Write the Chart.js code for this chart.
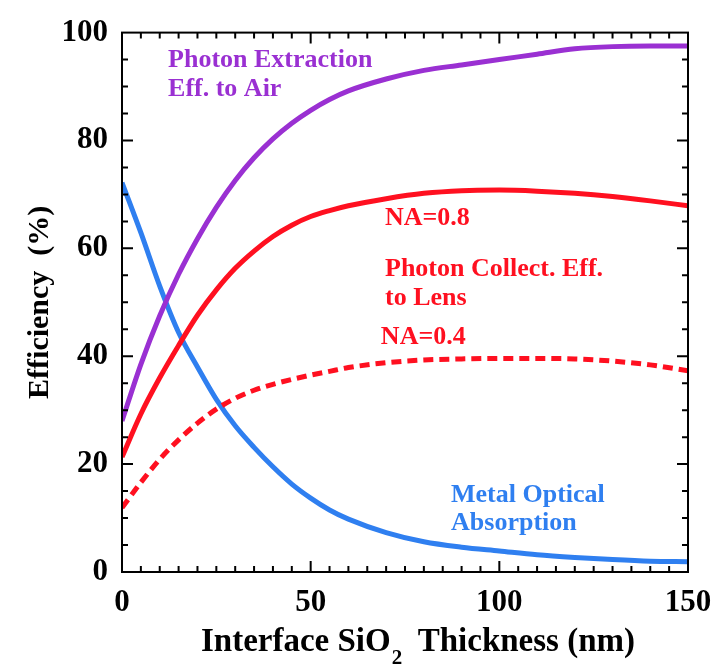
<!DOCTYPE html>
<html>
<head>
<meta charset="utf-8">
<script src="https://cdn.jsdelivr.net/npm/chart.js@4.4.1/dist/chart.umd.min.js"></script>
<style>
  html, body { margin: 0; padding: 0; background: #fff; }
  #wrap { width: 726px; height: 669px; }
</style>
</head>
<body>
<div id="wrap"><canvas id="chart"></canvas></div>
<script>
// interface SiO2 thickness (nm)
const thickness = [0, 5, 10, 15, 20, 25, 30, 35, 40, 45, 50, 55, 60, 70, 80, 90, 100, 110, 120, 130, 140, 150]
// efficiency (%)
const extractionAir = [28, 38.5, 47.5, 55.2, 61.8, 67.6, 72.6, 76.8, 80.3, 83.2, 85.6, 87.6, 89.2, 91.4, 93, 94, 95, 96, 97, 97.4, 97.5, 97.5]
const collectNA08 = [21.3, 29.3, 36, 42, 47.6, 52.3, 56.3, 59.5, 62.2, 64.3, 65.9, 67, 67.9, 69.2, 70.2, 70.7, 70.8, 70.6, 70.2, 69.6, 68.8, 67.9]
const collectNA04 = [11.9, 16.6, 20.9, 24.5, 27.6, 30.2, 32.2, 33.7, 34.8, 35.7, 36.5, 37.2, 37.9, 38.8, 39.3, 39.5, 39.6, 39.6, 39.5, 39.1, 38.4, 37.3]
const metalAbsorption = [72.2, 62.9, 53, 44.4, 38, 32, 27.1, 23.1, 19.5, 16.3, 13.7, 11.5, 9.8, 7.3, 5.6, 4.6, 3.9, 3.2, 2.7, 2.3, 2.0, 1.9]

const PURPLE = '#9a30d2'
const RED = '#ff1020'
const BLUE = '#2f7ff0'
const FONT = "'Liberation Serif', 'Times New Roman', serif"

const pts = ys => thickness.map((t, i) => ({ x: t, y: ys[i] }))

const line = (label, ys, color, dash) => ({
  label,
  data: pts(ys),
  borderColor: color,
  borderWidth: 5,
  borderDash: dash || [],
  pointRadius: 0,
  fill: false,
  cubicInterpolationMode: 'monotone'
})

// text labels placed in data coordinates
const notes = [
  { text: 'Photon Extraction', x: 12.2, y: 94.9, color: PURPLE },
  { text: 'Eff. to Air', x: 12.2, y: 89.5, color: PURPLE },
  { text: 'NA=0.8', x: 69.7, y: 65.5, color: RED },
  { text: 'Photon Collect. Eff.', x: 69.7, y: 56.2, color: RED },
  { text: 'to Lens', x: 69.7, y: 50.7, color: RED },
  { text: 'NA=0.4', x: 68.6, y: 43.5, color: RED },
  { text: 'Metal Optical', x: 87.2, y: 14.2, color: BLUE },
  { text: 'Absorption', x: 87.2, y: 9.1, color: BLUE }
]

const frame = {
  id: 'frame',
  afterDraw(chart) {
    const { ctx, chartArea: a, scales: { x, y } } = chart
    ctx.save()
    ctx.strokeStyle = '#000'
    ctx.lineWidth = 2
    ctx.strokeRect(a.left, a.top, a.right - a.left, a.bottom - a.top)
    ctx.beginPath()
    for (let v = 5; v < 150; v += 5) {
      const px = x.getPixelForValue(v)
      const len = v % 50 === 0 ? 11 : 6
      ctx.moveTo(px, a.bottom); ctx.lineTo(px, a.bottom - len)
      ctx.moveTo(px, a.top); ctx.lineTo(px, a.top + len)
    }
    for (let v = 5; v < 100; v += 5) {
      const py = y.getPixelForValue(v)
      const len = v % 20 === 0 ? 11 : 6
      ctx.moveTo(a.left, py); ctx.lineTo(a.left + len, py)
      ctx.moveTo(a.right, py); ctx.lineTo(a.right - len, py)
    }
    ctx.stroke()

    // annotations
    ctx.font = 'bold 26px ' + FONT
    ctx.textBaseline = 'middle'
    ctx.textAlign = 'left'
    notes.forEach(n => {
      ctx.fillStyle = n.color
      ctx.fillText(n.text, x.getPixelForValue(n.x), y.getPixelForValue(n.y))
    })

    // x axis title with subscript
    ctx.fillStyle = '#000'
    ctx.textBaseline = 'alphabetic'
    const big = 'bold 33px ' + FONT
    const small = 'bold 21px ' + FONT
    const p1 = 'Interface SiO'
    const p3 = '  Thickness (nm)'
    ctx.font = big
    const w1 = ctx.measureText(p1).width
    const w3 = ctx.measureText(p3).width
    ctx.font = small
    const w2 = ctx.measureText('2').width
    const total = w1 + w2 + w3
    const cx = (a.left + a.right) / 2 - total / 2 + 13
    const base = 651
    ctx.font = big
    ctx.fillText(p1, cx, base)
    ctx.font = small
    ctx.fillText('2', cx + w1 + 1, base + 13)
    ctx.font = big
    ctx.fillText(p3, cx + w1 + w2, base)
    ctx.restore()
  }
}

new Chart(document.getElementById('chart'), {
  type: 'line',
  data: {
    datasets: [
      line('Photon Extraction Eff. to Air', extractionAir, PURPLE),
      line('Photon Collect. Eff. to Lens NA=0.8', collectNA08, RED),
      line('Photon Collect. Eff. to Lens NA=0.4', collectNA04, RED, [10, 6]),
      line('Metal Optical Absorption', metalAbsorption, BLUE)
    ]
  },
  options: {
    responsive: true,
    maintainAspectRatio: false,
    animation: false,
    layout: { padding: { top: 22, right: 38, left: 0, bottom: 0 } },
    plugins: {
      legend: { display: false },
      tooltip: { enabled: false }
    },
    scales: {
      x: {
        type: 'linear',
        min: 0,
        max: 150,
        grid: { display: false, drawTicks: false },
        border: { display: false },
        ticks: {
          stepSize: 50,
          padding: 12,
          color: '#000',
          font: { family: FONT, weight: 'bold', size: 31 }
        },
        afterFit: s => { s.height = 97 }
      },
      y: {
        min: 0,
        max: 100,
        grid: { display: false, drawTicks: false },
        border: { display: false },
        ticks: {
          stepSize: 20,
          padding: 14,
          color: '#000',
          font: { family: FONT, weight: 'bold', size: 31 }
        },
        title: {
          display: true,
          text: 'Efficiency  (%)',
          color: '#000',
          padding: { top: 22, bottom: 0 },
          font: { family: FONT, weight: 'bold', size: 30 }
        },
        afterFit: s => { s.width = 122 }
      }
    }
  },
  plugins: [frame]
})
</script>
</body>
</html>
